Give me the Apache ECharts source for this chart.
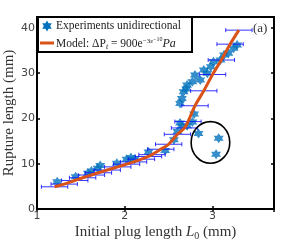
<!DOCTYPE html>
<html><head><meta charset="utf-8">
<script src="https://cdn.jsdelivr.net/npm/echarts@6/dist/echarts.min.js"></script>
<style>html,body{margin:0;padding:0;background:#fff}#c{width:300px;height:245px}</style>
</head><body><div id="c"></div>
<script>
// Experimental points (initial plug length L0, rupture length), mm
const expX = [1.23,1.44,1.58,1.62,1.69,1.72,1.91,2.02,2.07,2.11,2.27,2.46,2.56,2.60,2.65,2.71,2.63,2.77,2.79,2.84,3.07,3.04,2.63,2.65,2.67,2.70,2.71,2.77,2.80,2.86,2.90,2.94,2.98,3.01,3.09,3.13,3.18,3.24,3.28];
const expY = [6.0,7.1,7.9,8.4,9.0,9.6,10.1,11.0,11.4,11.0,12.6,12.9,15.3,17.1,18.3,18.4,19.0,19.2,21.0,16.7,15.6,12.1,23.3,24.4,25.9,26.5,27.4,28.1,29.6,28.5,30.7,30.0,31.4,32.5,32.9,34.0,34.4,35.5,36.2];
// Model points with horizontal error bars
const modelX = [1.20,1.31,1.43,1.52,1.62,1.70,1.80,1.92,2.02,2.10,2.19,2.27,2.31,2.41,2.50,2.60,2.68,2.72,2.80,2.90,3.00,3.10,3.20,3.30];
const modelY = [4.9,5.5,6.3,6.9,7.5,8.0,8.6,9.3,9.9,10.4,11.0,11.6,12.0,13.2,14.3,16.5,17.9,19.3,22.8,26.1,29.7,32.9,36.4,39.5];
const errHalf = [0.15,0.15,0.15,0.15,0.15,0.15,0.15,0.15,0.15,0.15,0.15,0.15,0.15,0.15,0.15,0.15,0.15,0.15,0.15,0.15,0.15,0.15,0.15,0.15];
// Outlier ellipse annotation: center x, center y, radius x, radius y (data units)
const ellipse = [2.976, 14.7, 0.22, 4.6];
const xTicks = [1,2,3];
const yTicks = [0,10,20,30,40];

const STAR = 'path://M0,-10L2.887,-5L8.66,-5L5.774,0L8.66,5L2.887,5L0,10L-2.887,5L-8.66,5L-5.774,0L-8.66,-5L-2.887,-5Z';
const starPts = (cx,cy,r)=>{const a=[];for(let k=0;k<12;k++){const ang=-Math.PI/2+k*Math.PI/6;const rr=k%2===0?r:r*0.577;a.push([cx+rr*Math.cos(ang),cy+rr*Math.sin(ang)]);}return a;};
const serif = '"Liberation Serif","DejaVu Serif",serif';
const chart = echarts.init(document.getElementById('c'), null, {renderer:'canvas'});
const axLabel = {color:'#444', fontSize:11, fontFamily:'"DejaVu Sans",sans-serif'};
chart.setOption({
  animation:false,
  grid:{left:37, right:26, top:17, bottom:36, show:true, borderColor:'#000', borderWidth:2, backgroundColor:'transparent', containLabel:false, outerBoundsMode:'none'},
  xAxis:[{type:'value', min:1, max:3.7, interval:1, position:'bottom',
    axisLine:{show:false}, splitLine:{show:false},
    axisTick:{show:true, inside:true, length:3, lineStyle:{color:'#000', width:1.5}},
    axisLabel:Object.assign({margin:2, formatter:v=>xTicks.includes(v)?String(v):''}, axLabel),
    name:'Initial plug length {i|L}{s|0} (mm)', nameLocation:'middle', nameGap:15, nameMoveOverlap:false,
    nameTextStyle:{fontFamily:serif, fontSize:15, color:'#333', rich:{i:{fontFamily:serif,fontStyle:'italic',fontSize:15,color:'#333'}, s:{fontFamily:serif,fontSize:10,color:'#333',padding:[7,0,0,0]}}}},
   {type:'value', min:1, max:3.7, interval:1, position:'top', axisLine:{show:false}, splitLine:{show:false},
    axisTick:{show:true, inside:true, length:3, lineStyle:{color:'#000', width:1.5}}, axisLabel:{show:false}}],
  yAxis:[{type:'value', min:0, max:42.4, interval:10,
    axisLine:{show:false}, splitLine:{show:false},
    axisTick:{show:true, inside:true, length:3, lineStyle:{color:'#000', width:1.5}},
    axisLabel:Object.assign({margin:2, formatter:v=>yTicks.includes(v)?String(v):''}, axLabel),
    name:'Rupture length (mm)', nameLocation:'middle', nameGap:20, nameMoveOverlap:false,
    nameTextStyle:{fontFamily:serif, fontSize:15, color:'#333'}},
   {type:'value', min:0, max:42.4, interval:10, position:'right', axisLine:{show:false}, splitLine:{show:false},
    axisTick:{show:true, inside:true, length:3, lineStyle:{color:'#000', width:1.5}}, axisLabel:{show:false}}],
  series:[
    {type:'scatter', name:'Experiments unidirectional', data:expX.map((x,i)=>[x,expY[i]]),
     symbol:STAR, symbolSize:10, itemStyle:{color:'#0072BD'}, z:2},
    {type:'custom', name:'err', data:modelX.map((x,i)=>[x,modelY[i],errHalf[i]]), z:3,
     renderItem:(params, api)=>{
       const x=api.value(0), y=api.value(1), h=api.value(2);
       const p1=api.coord([x-h,y]), p2=api.coord([x+h,y]);
       const st={stroke:'rgba(15,15,255,0.85)', lineWidth:1};
       return {type:'group', children:[
         {type:'line', shape:{x1:p1[0],y1:p1[1],x2:p2[0],y2:p2[1]}, style:st},
         {type:'line', shape:{x1:p1[0],y1:p1[1]-2,x2:p1[0],y2:p1[1]+2}, style:st},
         {type:'line', shape:{x1:p2[0],y1:p2[1]-2,x2:p2[0],y2:p2[1]+2}, style:st}]};
     }},
    {type:'line', name:'Model', data:modelX.map((x,i)=>[x,modelY[i]]), smooth:0.3, showSymbol:false,
     lineStyle:{color:'#D95319', width:3}, z:4},
    {type:'custom', name:'ellipse', data:[ellipse], z:5,
     renderItem:(params, api)=>{
       const c=api.coord([api.value(0),api.value(1)]);
       const e=api.coord([api.value(0)+api.value(2),api.value(1)+api.value(3)]);
       const rx=Math.abs(e[0]-c[0]), ry=Math.abs(c[1]-e[1]);
       return {type:'ellipse', shape:{cx:c[0],cy:c[1],rx:rx,ry:ry},
         style:{fill:'none', stroke:'#000', lineWidth:1.6}};
     }}
  ],
  graphic:[
    {type:'rect', z:10, shape:{x:38, y:17, width:154, height:35}, style:{fill:'#fff', stroke:'#000', lineWidth:2}},
    {type:'polygon', z:11, shape:{points:starPts(47,26,5.5)}, style:{fill:'#0072BD'}},
    {type:'line', z:11, shape:{x1:40, y1:43, x2:54, y2:43}, style:{stroke:'#D95319', lineWidth:3}},
    {type:'text', z:11, x:56, y:20, style:{text:'Experiments unidirectional', font:'11.5px '+serif, fill:'#222'}},
    {type:'text', z:11, x:56, y:36, style:{text:'Model: ΔP{s|t} = 900e{p|−3ε}{q|−10}{i|Pa}', font:'11.5px '+serif, fill:'#222',
      rich:{s:{fontFamily:serif,fontStyle:'italic',fontSize:8,padding:[5,0,0,0]}, p:{fontFamily:serif,fontSize:7,padding:[0,0,6,0]}, q:{fontFamily:serif,fontSize:6,padding:[0,0,10,0]}, i:{fontFamily:serif,fontStyle:'italic',fontSize:12}}}},
    {type:'text', z:11, x:253, y:22, style:{text:'(a)', font:'13px '+serif, fill:'#333'}}
  ]
});
</script></body></html>
